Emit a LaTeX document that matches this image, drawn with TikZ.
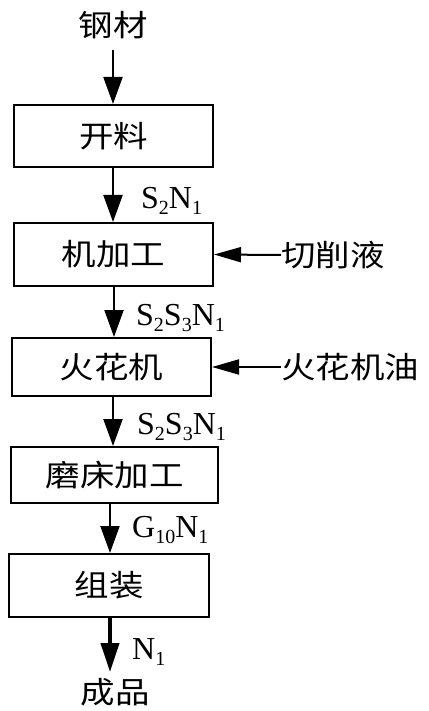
\documentclass[tikz,border=0pt]{standalone}
\usepackage{fontspec}
\setmainfont{Liberation Serif}
\newfontfamily\cjk[FakeStretch=1.15]{Noto Sans CJK SC}
\usetikzlibrary{arrows.meta}
\newcommand{\lsub}[1]{\raisebox{-0.2em}{\fontsize{20}{20}\selectfont #1}}
\tikzset{
  box/.style={draw, line width=2pt, minimum height=60pt, inner sep=0pt, font=\fontsize{30}{30}\selectfont\cjk},
  txt/.style={inner sep=0pt, font=\fontsize{30}{30}\selectfont\cjk},
  lbl/.style={inner sep=0pt, anchor=west, font=\fontsize{32}{32}\selectfont},
  varr/.style={line width=2pt, -{Triangle[length=27pt,width=19pt]}},
  harr/.style={line width=2pt, -{Triangle[length=27pt,width=15pt]}},
}
\begin{document}
\begin{tikzpicture}[x=1pt,y=1pt]
\useasboundingbox (0,0) rectangle (428,-711);
\node[txt] (steel) at (113,-25) {钢材};
\node[box, minimum width=199pt, minimum height=62pt] (b1) at (113.5,-136) {开料};
\node[box, minimum width=199pt, minimum height=63pt] (b2) at (113.5,-254.5) {机加工};
\node[box, minimum width=199pt, minimum height=58pt] (b3) at (111.5,-367) {火花机};
\node[box, minimum width=207pt, minimum height=56pt] (b4) at (114.5,-475) {磨床加工};
\node[box, minimum width=200pt, minimum height=63pt] (b5) at (109,-585.5) {组装};
\node[txt] (prod) at (115,-692) {成品};
\node[txt, anchor=west] (cut) at (281,-255) {切削液};
\node[txt, anchor=west] (oil) at (281,-367) {火花机油};
\coordinate (s1) at (113,-50);
\draw[varr] (s1) -- (113,-104);
\draw[varr] (113,-167) -- (113,-222);
\draw[varr] (114,-286) -- (114,-337);
\draw[varr] (113,-396) -- (113,-446);
\draw[varr] (110,-503) -- (110,-553);
\draw[line width=4pt, -{Triangle[length=29pt,width=18pt]}] (110,-617) -- (110,-672);
\draw[harr] (cut.west) -- (b2.east);
\draw[harr] (oil.west) -- (b3.east);
\node[lbl] at (141,-201) {S\lsub{2}N\lsub{1}};
\node[lbl] at (136,-318) {S\lsub{2}S\lsub{3}N\lsub{1}};
\node[lbl] at (137,-427) {S\lsub{2}S\lsub{3}N\lsub{1}};
\node[lbl] at (132,-530) {G\lsub{10}N\lsub{1}};
\node[lbl] at (132,-652) {N\lsub{1}};
\end{tikzpicture}
\end{document}
